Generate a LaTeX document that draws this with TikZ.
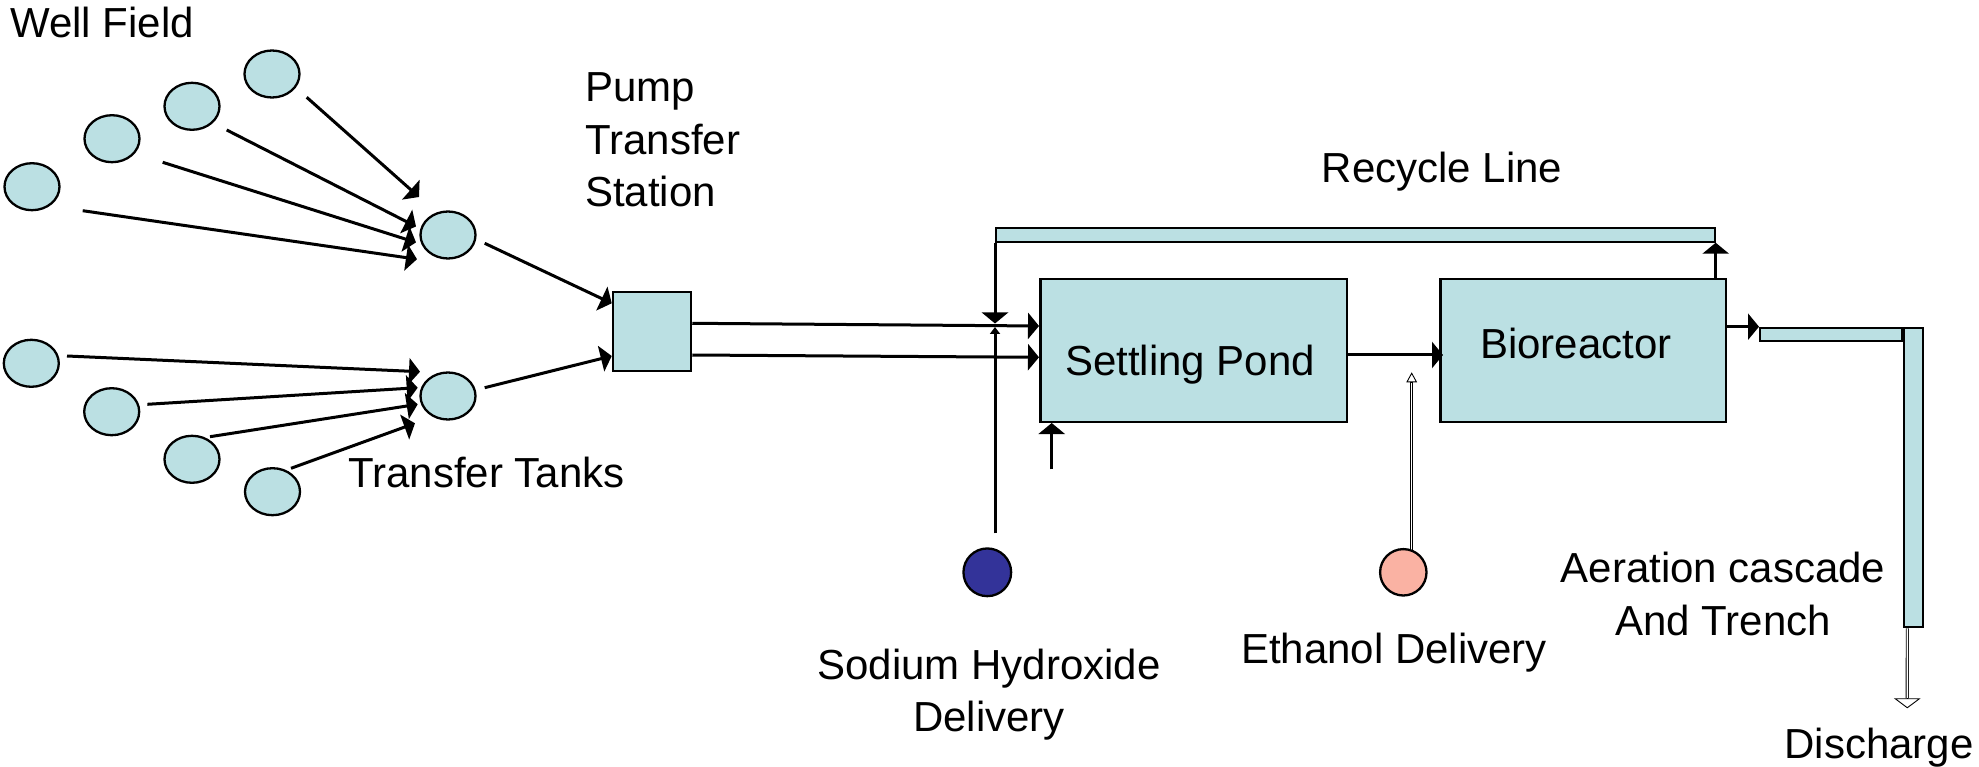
\documentclass[tikz,border=0pt]{standalone}
\usepackage{fontspec}
\setmainfont{Liberation Sans}
\usetikzlibrary{shapes.geometric,arrows.meta,calc}
\definecolor{tankblue}{RGB}{187,224,227}
\definecolor{naohblue}{RGB}{51,51,153}
\definecolor{ethsalmon}{RGB}{250,178,163}
\tikzset{
  well/.style={ellipse, draw, line width=2.3pt, fill=tankblue, minimum width=55pt, minimum height=47pt, inner sep=0pt},
  unit/.style={rectangle, draw, line width=2.5pt, fill=tankblue, inner sep=0pt},
  channel/.style={rectangle, draw, line width=2pt, fill=tankblue, inner sep=0pt},
  feed/.style={circle, draw, line width=2.3pt, inner sep=0pt},
  flow/.style={line width=3pt, -{Triangle[length=11pt,width=26pt]}},
  dose/.style={draw, line width=0.9pt, double=white, double distance=1.4pt},
  hollowtip/.style={line width=0.9pt, -{Triangle[open,length=10pt,width=#1]}},
  hollowtip/.default=10.7pt,
  lbl/.style={inner sep=0pt, font=\fontsize{42}{52.5}\selectfont}
}
\begin{document}
\begin{tikzpicture}[x=1pt,y=-1pt]
    \useasboundingbox (0,0) rectangle (1979,767);

    % Well field
    \node[well] (w1) at (272,74) {};
    \node[well] (w2) at (192,106.3) {};
    \node[well] (w3) at (112,138.7) {};
    \node[well] (w4) at (32,186.7) {};
    \node[well] (w5) at (31.3,363.3) {};
    \node[well] (w6) at (111.7,411.7) {};
    \node[well] (w7) at (192,459.3) {};
    \node[well] (w8) at (272.5,491.7) {};
    \node[lbl, anchor=base west] (wellfield) at (10,37.3) {Well Field};

    % Transfer tanks and pump
    \node[well] (t1) at (448,235) {};
    \node[well] (t2) at (448,396) {};
    \node[unit, minimum width=78pt, minimum height=79pt] (pump) at (652,331.5) {};
    \node[lbl, anchor=base west] (tankslbl) at (348,487.3) {Transfer Tanks};
    \node[lbl, anchor=base west, align=left] (pumplbl) at (585,207) {Pump\\Transfer\\Station};

    \draw[flow] ($(w1)+(34.7,23.3)$) -- ($(t1)+(-29,-38)$);
    \draw[flow] ($(w2)+(34.7,23.7)$) -- ($(t1)+(-32,-8.5)$);
    \draw[flow] ($(w3)+(50.7,23.6)$) -- ($(t1)+(-32,7.4)$);
    \draw[flow] ($(w4)+(50.7,24)$) -- ($(t1)+(-31,24.2)$);
    \draw[flow] ($(w5)+(35.7,-7.3)$) -- ($(t2)+(-28,-24.3)$);
    \draw[flow] ($(w6)+(35.7,-7.4)$) -- ($(t2)+(-30.3,-8.3)$);
    \draw[flow] ($(w7)+(18,-22.6)$) -- ($(t2)+(-30.3,8.3)$);
    \draw[flow] ($(w8)+(18.5,-23.4)$) -- ($(t2)+(-33,27.3)$);
    \draw[flow] ($(t1)+(36.7,8.3)$) -- ($(pump.west)+(0,-28.2)$);
    \draw[flow] ($(t2)+(36.7,-8.3)$) -- ($(pump.west)+(0,24.5)$);

    % Treatment units
    \node[unit, minimum width=306.5pt, minimum height=142.5pt] (pond) at (1193.5,350.5) {};
    \node[unit, minimum width=285.5pt, minimum height=142.5pt] (bio) at (1583,350.5) {};
    \node[lbl, anchor=base] (pondlbl) at ($(pond)+(-3.5,24.5)$) {Settling Pond};
    \node[lbl, anchor=base] (biolbl) at ($(bio)+(-7,7.8)$) {Bioreactor};
    \node[channel, minimum width=718.7pt, minimum height=14pt] (recycle) at (1355.35,234.7) {};
    \node[lbl, anchor=base west] (recyclelbl) at (1321.7,182.7) {Recycle Line};

    \draw[flow] ($(pump.east)+(0,-8.2)$) -- ($(pond.west)+(0,-24.5)$);
    \draw[flow] ($(pump.east)+(0,23.5)$) -- ($(pond.west)+(0,6.8)$);
    \draw[flow] ($(pond.east)+(0,4.5)$) -- ($(bio.west)+(4,4.5)$);
    \draw[flow] (recycle.south east |- bio.north) -- (recycle.south east);
    \coordinate (rtip) at (995,323.5);
    \draw[flow] (recycle.south west) -- (rtip);

    % Sodium hydroxide
    \node[feed, fill=naohblue, minimum size=47.7pt] (naoh) at (987.3,572.3) {};
    \coordinate (ntip) at (995,327);
    \draw[flow, -{Triangle[length=7pt,width=10pt]}] ($(ntip |- naoh.north)+(0,-14)$) -- (ntip);
    \coordinate (pondfeed) at (1051.7,469.3);
    \draw[flow] (pondfeed) -- (pondfeed |- pond.south);
    \node[lbl, anchor=base, align=center] (naohlbl) at (989,731.7) {Sodium Hydroxide\\Delivery};

    % Ethanol
    \coordinate (ethtip) at (1411.7,372.3);
    \draw[dose] (1411.7,550) -- ($(ethtip)+(0,10)$);
    \draw[hollowtip] ($(ethtip)+(0,10)$) -- (ethtip);
    \node[feed, fill=ethsalmon, minimum size=46.4pt] (eth) at (1403.3,572.3) {};
    \node[lbl, anchor=base] (ethlbl) at (1394,663) {Ethanol Delivery};

    % Aeration cascade and trench
    \node[channel, minimum width=141.7pt, minimum height=13.6pt] (cascade) at (1830.85,334.5) {};
    \node[channel, minimum width=19.3pt, minimum height=299.6pt] (trench) at (1913.35,477.5) {};
    \draw[flow] (cascade.north west -| bio.east) -- (cascade.north west);
    \node[lbl, anchor=base, align=center] (cascadelbl) at (1723,635) {Aeration cascade\\And Trench};

    \coordinate (outfall) at (1907.3,708.3);
    \draw[dose] ($(trench.south)+(-6,0)$) -- ($(outfall)+(0,-10)$);
    \draw[hollowtip=26.7pt] ($(outfall)+(0,-10)$) -- (outfall);
    \node[lbl, anchor=base] (dischargelbl) at (1879,758) {Discharge};
\end{tikzpicture}
\end{document}
